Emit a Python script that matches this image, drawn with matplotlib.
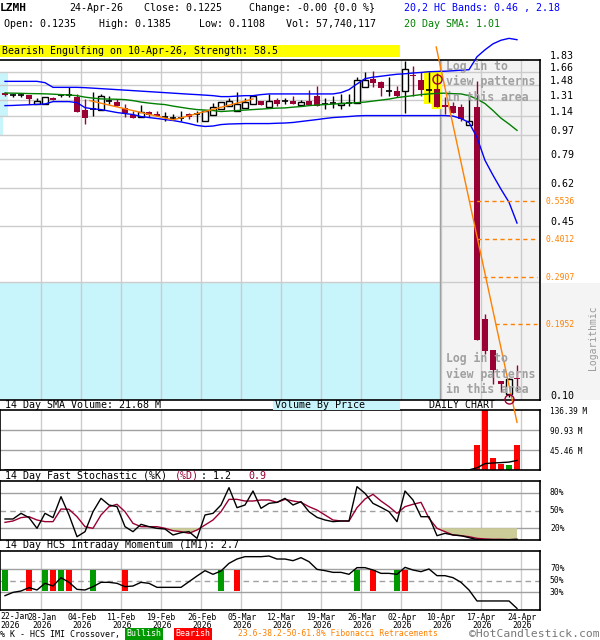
import numpy as np
import pandas as pd
import matplotlib
matplotlib.use('Agg')
import matplotlib.pyplot as plt
from matplotlib.patches import Rectangle
from matplotlib.transforms import ScaledTranslation, blended_transform_factory
from matplotlib.ticker import NullLocator

plt.rcParams['font.family'] = ['DejaVu Sans Mono', 'DejaVu Sans']

# ---------------- data ----------------
holidays = ['2026-02-16', '2026-04-03']
dates = [d for d in pd.bdate_range('2026-01-22', '2026-04-24')
         if d.strftime('%Y-%m-%d') not in holidays]

opens = [1.391, 1.368, 1.360, 1.360, 1.268, 1.265, 1.334, 1.365, 1.360, 1.345,
         1.205, 1.210, 1.200, 1.300, 1.290, 1.218, 1.152, 1.130, 1.180, 1.162,
         1.137, 1.125, 1.125, 1.165, 1.160, 1.092, 1.155, 1.212, 1.246, 1.190,
         1.222, 1.265, 1.300, 1.236, 1.311, 1.300, 1.300, 1.257, 1.292, 1.356,
         1.268, 1.268, 1.250, 1.275, 1.275, 1.463, 1.566, 1.520, 1.415, 1.410,
         1.415, 1.620, 1.549, 1.425, 1.440, 1.257, 1.246, 1.236, 1.060, 1.236,
         0.204, 0.157, 0.120, 0.108, 0.1235]
highs = [1.400, 1.380, 1.380, 1.365, 1.325, 1.345, 1.345, 1.380, 1.463, 1.380,
         1.320, 1.400, 1.370, 1.356, 1.320, 1.260, 1.190, 1.250, 1.195, 1.195,
         1.180, 1.160, 1.195, 1.175, 1.195, 1.195, 1.270, 1.280, 1.330, 1.400,
         1.330, 1.356, 1.300, 1.380, 1.330, 1.334, 1.350, 1.310, 1.427, 1.476,
         1.334, 1.356, 1.380, 1.380, 1.593, 1.655, 1.675, 1.540, 1.590, 1.476,
         1.823, 1.750, 1.655, 1.655, 1.640, 1.340, 1.280, 1.268, 1.379, 1.540,
         0.213, 0.157, 0.120, 0.1237, 0.1385]
lows = [1.350, 1.345, 1.340, 1.262, 1.262, 1.262, 1.305, 1.345, 1.345, 1.177,
        1.068, 1.145, 1.200, 1.268, 1.246, 1.135, 1.123, 1.130, 1.130, 1.140,
        1.098, 1.100, 1.098, 1.115, 1.085, 1.092, 1.155, 1.210, 1.246, 1.190,
        1.222, 1.265, 1.257, 1.236, 1.246, 1.265, 1.265, 1.257, 1.257, 1.246,
        1.215, 1.225, 1.215, 1.246, 1.270, 1.463, 1.455, 1.350, 1.356, 1.340,
        1.175, 1.356, 1.350, 1.280, 1.228, 1.160, 1.175, 1.098, 1.058, 0.171,
        0.151, 0.117, 0.1096, 0.105, 0.1108]
closes = [1.360, 1.366, 1.358, 1.318, 1.292, 1.345, 1.311, 1.363, 1.358, 1.177,
          1.122, 1.213, 1.356, 1.302, 1.246, 1.168, 1.123, 1.180, 1.152, 1.145,
          1.135, 1.123, 1.123, 1.136, 1.158, 1.195, 1.228, 1.280, 1.300, 1.264,
          1.282, 1.356, 1.257, 1.300, 1.265, 1.298, 1.265, 1.289, 1.257, 1.246,
          1.266, 1.270, 1.270, 1.273, 1.549, 1.549, 1.510, 1.450, 1.413, 1.350,
          1.700, 1.606, 1.427, 1.423, 1.228, 1.236, 1.175, 1.115, 1.092, 0.171,
          0.155, 0.132, 0.117, 0.1225, 0.1225]

hc_upper = [1.531, 1.531, 1.531, 1.531, 1.531, 1.514, 1.455, 1.455, 1.455, 1.455,
            1.451, 1.445, 1.439, 1.433, 1.427, 1.421, 1.415, 1.409, 1.403, 1.397,
            1.391, 1.385, 1.379, 1.373, 1.368, 1.362, 1.356, 1.345, 1.345, 1.351,
            1.356, 1.356, 1.368, 1.376, 1.376, 1.376, 1.376, 1.376, 1.376, 1.376,
            1.376, 1.376, 1.391, 1.427, 1.497, 1.566, 1.586, 1.599, 1.613, 1.626,
            1.633, 1.643, 1.651, 1.661, 1.665, 1.668, 1.675, 1.683, 1.690, 1.886,
            2.001, 2.105, 2.170, 2.205, 2.180]
hc_lower = [1.246, 1.248, 1.252, 1.255, 1.259, 1.264, 1.289, 1.289, 1.289, 1.278,
            1.225, 1.212, 1.205, 1.190, 1.175, 1.165, 1.155, 1.136, 1.126, 1.117,
            1.107, 1.098, 1.085, 1.070, 1.053, 1.044, 1.048, 1.061, 1.066, 1.068,
            1.070, 1.070, 1.070, 1.070, 1.073, 1.075, 1.080, 1.089, 1.098, 1.107,
            1.117, 1.126, 1.131, 1.136, 1.142, 1.145, 1.145, 1.145, 1.145, 1.145,
            1.145, 1.145, 1.145, 1.145, 1.145, 1.145, 1.140, 1.117, 1.080, 0.951,
            0.783, 0.690, 0.613, 0.549, 0.460]
sma20 = [1.387, 1.385, 1.383, 1.380, 1.379, 1.377, 1.373, 1.368, 1.364, 1.356,
         1.339, 1.328, 1.319, 1.317, 1.315, 1.311, 1.300, 1.284, 1.273, 1.264,
         1.257, 1.241, 1.228, 1.215, 1.205, 1.200, 1.195, 1.185, 1.190, 1.195,
         1.200, 1.205, 1.210, 1.215, 1.220, 1.222, 1.230, 1.236, 1.246, 1.252,
         1.257, 1.262, 1.268, 1.273, 1.278, 1.284, 1.295, 1.306, 1.317, 1.334,
         1.345, 1.356, 1.368, 1.376, 1.383, 1.385, 1.379, 1.376, 1.356, 1.317,
         1.268, 1.195, 1.120, 1.066, 1.010]

volumes = [0.22, 0.18, 0.25, 0.30, 0.21, 0.19, 0.24, 0.16, 0.28, 0.35,
           0.31, 0.22, 0.26, 0.18, 0.20, 0.27, 0.23, 0.19, 0.17, 0.21,
           0.15, 0.14, 0.18, 0.16, 0.20, 0.22, 0.25, 0.21, 0.19, 0.24,
           0.20, 0.23, 0.18, 0.17, 0.16, 0.15, 0.19, 0.14, 0.18, 0.26,
           0.17, 0.15, 0.14, 0.16, 0.32, 0.28, 0.27, 0.22, 0.19, 0.18,
           0.35, 0.24, 0.21, 0.18, 0.26, 0.20, 0.19, 0.22, 0.24, 57.0,
           136.39, 27.0, 13.0, 11.0, 57.74]
sma_volume = [0.22, 0.22, 0.22, 0.22, 0.22, 0.22, 0.22, 0.23, 0.23, 0.23,
              0.23, 0.23, 0.24, 0.24, 0.24, 0.24, 0.23, 0.23, 0.23, 0.22,
              0.22, 0.21, 0.21, 0.20, 0.20, 0.20, 0.20, 0.20, 0.20, 0.20,
              0.20, 0.20, 0.20, 0.20, 0.19, 0.19, 0.19, 0.19, 0.19, 0.19,
              0.19, 0.19, 0.18, 0.18, 0.19, 0.20, 0.20, 0.21, 0.21, 0.21,
              0.22, 0.22, 0.22, 0.22, 0.22, 0.23, 0.23, 0.23, 0.23, 5.0,
              14.5, 16.0, 16.8, 18.0, 21.68]

stoch_k = [35.6, 35.6, 45.2, 37.9, 19.8, 45.2, 37.9, 73.4, 42.4, 5.6,
           14.1, 48.0, 70.6, 59.3, 56.5, 22.6, 14.1, 26.6, 22.6, 19.8,
           18.6, 8.5, 12.4, 14.1, 2.8, 42.4, 45.2, 59.3, 88.7, 54.8,
           59.3, 83.1, 53.7, 62.1, 63.8, 70.6, 59.3, 65.0, 48.0, 38.4,
           33.9, 31.1, 32.2, 32.2, 90.4, 79.1, 62.1, 55.4, 48.0, 31.1,
           83.1, 67.8, 39.5, 39.5, 7.3, 11.3, 8.5, 7.3, 4.0, 0.6,
           0.6, 0.6, 0.6, 0.6, 1.2]
stoch_d = [29.9, 32.2, 37.9, 39.5, 33.9, 31.1, 31.1, 52.5, 52.0, 39.5,
           22.6, 19.8, 42.4, 56.5, 60.5, 48.0, 28.2, 22.6, 22.6, 22.6,
           19.8, 15.8, 14.1, 11.3, 16.9, 25.4, 33.9, 48.0, 68.9, 68.9,
           66.1, 66.1, 67.8, 67.8, 63.8, 68.9, 66.1, 63.8, 56.5, 50.8,
           42.4, 33.9, 32.2, 32.2, 54.8, 69.5, 77.4, 66.1, 56.5, 45.2,
           56.5, 60.5, 63.8, 36.7, 19.8, 14.1, 8.5, 7.3, 5.6, 2.8,
           1.7, 1.1, 1.1, 0.6, 0.9]
imi = [24.3, 29.9, 32.2, 37.9, 33.9, 45.2, 40.7, 54.8, 46.9, 35.0,
       33.9, 39.5, 46.9, 46.9, 45.2, 39.5, 40.7, 46.9, 45.2, 38.4,
       38.4, 38.4, 38.4, 48.0, 57.6, 66.7, 60.5, 66.1, 79.1, 86.4,
       90.4, 90.4, 90.4, 91.5, 86.4, 86.4, 83.6, 88.7, 81.9, 68.9,
       66.7, 63.8, 63.8, 60.5, 71.8, 71.8, 67.8, 62.1, 62.1, 60.5,
       72.3, 67.8, 65.0, 69.5, 58.2, 58.2, 54.8, 46.9, 33.9, 15.3,
       15.3, 15.3, 15.3, 15.3, 2.7]
bullish_days = ['2026-01-22', '2026-01-29', '2026-02-02', '2026-02-06', '2026-03-03',
                '2026-03-26', '2026-04-02']
bearish_days = ['2026-01-27', '2026-01-30', '2026-02-03', '2026-02-12', '2026-03-05',
                '2026-03-30', '2026-04-06']

price_ticks = [1.83, 1.66, 1.48, 1.31, 1.14, 0.97, 0.79, 0.62, 0.45, 0.28, 0.1025]
price_tick_labels = ['1.83', '1.66', '1.48', '1.31', '1.14', '0.97', '0.79', '0.62',
                     '0.45', '', '0.10']
vbp_volume = [0.0, 4.6, 4.8, 4.9, 1.6, 0.0, 0.0, 0.0, 0.0, 262.0]  # per price bucket (M)
fib_levels = [0.5536, 0.4012, 0.2907, 0.1952]
fib_labels = ['0.5536', '0.4012', '0.2907', '0.1952']
fib_start_day = [58.0, 59.0, 59.75, 61.25]
trend_days = [53.9, 64.0]
trend_prices = [2.05, 0.0848]
vline_days = [10.6, 21.0, 31.0]
vline_prices = [1.300, 1.104, 1.319]
pattern_marks_days = [54, 63]
pattern_marks_prices = [1.56, 0.103]
highlight_days = [53, 54]
vol_ticks = [45.46, 90.93, 136.39]
date_label_list = ['2026-01-22', '2026-01-28', '2026-02-04', '2026-02-11', '2026-02-19',
                   '2026-02-26', '2026-03-05', '2026-03-12', '2026-03-19', '2026-03-26',
                   '2026-04-02', '2026-04-10', '2026-04-17', '2026-04-24']

# ---------------- setup ----------------
n = len(dates)
x = np.arange(n)
day_index = {d.strftime('%Y-%m-%d'): i for i, d in enumerate(dates)}

MAROON = '#990033'
ORANGE = '#ff8000'
GRIDV = '#cccccc'
GRIDH = '#a0a0a0'
CYAN = '#c8f4fc'

W, H = 600, 640
fig = plt.figure(figsize=(6, 6.4), dpi=100)


def fx(px):
    return px / W


def fy(py):
    return 1 - py / H


def T(px, py, s, **kw):
    kw.setdefault('va', 'center')
    kw.setdefault('fontsize', 7.2)
    return fig.text(fx(px), fy(py), s, **kw)


def add_ax(top, bottom):
    return fig.add_axes([0, fy(bottom), 540 / W, (bottom - top) / H])


XL = (-0.625, 66.875)
grid_days = [day_index[d] + 0.46 for d in date_label_list[1:]]

ax = add_ax(60, 400)
axv = add_ax(410, 470)
axs = add_ax(481, 540)
axi = add_ax(551, 610)
ax.set_zorder(3)

for a in (ax, axv, axs, axi):
    a.set_xlim(XL)
    a.set_xticks([])
    a.set_yticks([])
    for sp in a.spines.values():
        sp.set_color('black')
        sp.set_linewidth(1.2)

# ---------------- main price panel ----------------
ax.set_yscale('log')
ax.set_ylim(0.1025, 1.835)
ax.yaxis.set_minor_locator(NullLocator())
ax.set_yticks([])
ax.spines['left'].set_visible(False)

split = (440 - 5) / 8.0
ax.axvspan(split, XL[1], color='#f3f3f3', zorder=0)

# volume-by-price buckets
vmax = max(vbp_volume)
for k in range(len(vbp_volume)):
    top_p, bot_p = price_ticks[k], price_ticks[k + 1]
    if vbp_volume[k] > 0:
        w = vbp_volume[k] / vmax * (split - XL[0])
        ax.barh(bot_p, w, height=top_p - bot_p, left=XL[0], align='edge',
                color=CYAN, zorder=0.2, lw=0)

for g in grid_days:
    ax.axvline(g, color=GRIDV, lw=1, zorder=0.5)
ax.axvline(split, color='#a0a0a0', lw=1, zorder=0.6)
for v in price_ticks[1:-1]:
    ax.axhline(v, color=GRIDV, lw=1, zorder=0.5)

lab_tr = blended_transform_factory(ax.transAxes, ax.transData) + \
    ScaledTranslation(10 / 100, 4 / 100, fig.dpi_scale_trans)
for v, s in zip(price_ticks, price_tick_labels):
    ax.text(1.0, v, s, transform=lab_tr, ha='left', va='center', fontsize=7.2,
            clip_on=False)

# highlight boxes for the engulfing pattern
for d in highlight_days:
    ax.add_patch(Rectangle((d - 0.62, lows[d] * 0.985), 1.24,
                           highs[d] * 1.012 - lows[d] * 0.985,
                           facecolor='#ffff00', edgecolor='none', zorder=1.5))

# candles
bw = 0.7
for i in range(n):
    o, h, l, c = opens[i], highs[i], lows[i], closes[i]
    if abs(c - o) / o < 0.004:
        ax.vlines(i, l, h, color='black', lw=1, zorder=3)
        ax.hlines((o + c) / 2, i - bw / 2, i + bw / 2, color='black', lw=1.2, zorder=3)
    elif c < o:
        ax.vlines(i, l, h, color=MAROON, lw=1, zorder=3)
        ax.bar(i, o - c, bottom=c, width=bw, color=MAROON, lw=0, zorder=3.1)
    else:
        ax.vlines(i, l, h, color='black', lw=1, zorder=3)
        ax.bar(i, c - o, bottom=o, width=bw, facecolor='white', edgecolor='black',
               lw=1, zorder=3.1)

ax.plot(x, hc_upper, color='#0000ff', lw=1, zorder=4, clip_on=False)
ax.plot(x, hc_lower, color='#0000ff', lw=1, zorder=4)
ax.plot(x, sma20, color='#008000', lw=1, zorder=4)
ax.plot(vline_days, vline_prices, color=ORANGE, lw=1, zorder=4)
ax.plot(trend_days, trend_prices, color=ORANGE, lw=1, zorder=6, clip_on=False)
ax.plot(pattern_marks_days, pattern_marks_prices, 'o', mfc='none', mec=MAROON,
        ms=6.5, mew=1, zorder=6, clip_on=False)

fib_tr = blended_transform_factory(ax.transAxes, ax.transData) + \
    ScaledTranslation(6 / 100, 0, fig.dpi_scale_trans)
for lvl, s, st in zip(fib_levels, fib_labels, fib_start_day):
    ax.plot([st, 66.5], [lvl, lvl], color=ORANGE, lw=1, ls=(0, (3, 2.5)), zorder=4)
    ax.text(1.0, lvl, s, transform=fib_tr, color=ORANGE, fontsize=5.8, va='center',
            clip_on=False)

# "log in" placeholders
T(446, 81.7, 'Log in to\nview patterns\nin this area', color='#a0a0a0',
  fontweight='bold', fontsize=8.3, linespacing=1.25, zorder=10)
T(446, 374, 'Log in to\nview patterns\nin this area', color='#a0a0a0',
  fontweight='bold', fontsize=8.3, linespacing=1.25, zorder=10)

# right-side logarithmic box
fig.patches.append(Rectangle((fx(541), fy(400)), fx(59), 117 / H, transform=fig.transFigure,
                             facecolor='#f4f4f4', edgecolor='none', zorder=0))
T(593, 338, 'Logarithmic', rotation=90, ha='center', color='#999999', fontsize=7)

# ---------------- header ----------------
T(0, 8, 'LZMH', fontweight='bold', fontsize=8)
T(69, 8, '24-Apr-26')
T(144, 8, 'Close: 0.1225')
T(249, 8, 'Change: -0.00 {0.0 %}')
T(404, 8, '20,2 HC Bands: 0.46 , 2.18', color='#0000ff')
T(4, 24, 'Open: 0.1235')
T(99, 24, 'High: 0.1385')
T(199, 24, 'Low: 0.1108')
T(286, 24, 'Vol: 57,740,117')
T(404, 24, '20 Day SMA: 1.01', color='#008000')
fig.patches.append(Rectangle((0, fy(57)), fx(400), 12 / H, transform=fig.transFigure,
                             facecolor='#ffff00', edgecolor='none', zorder=0))
T(2, 51, 'Bearish Engulfing on 10-Apr-26, Strength: 58.5')

# ---------------- volume panel ----------------
axv.set_ylim(0, 136.39)
for g in grid_days:
    axv.axvline(g, color=GRIDV, lw=1, zorder=0.5)
for v in vol_ticks[:-1]:
    axv.axhline(v, color=GRIDH, lw=1, zorder=0.5)
vcol = ['#ff0000' if closes[i] <= opens[i] else '#009900' for i in range(n)]
axv.bar(x, volumes, width=0.75, color=vcol, lw=0, zorder=2)
axv.plot(x, sma_volume, color='black', lw=1, zorder=3)
vtr = blended_transform_factory(axv.transAxes, axv.transData) + \
    ScaledTranslation(10 / 100, -1.5 / 100, fig.dpi_scale_trans)
for v in vol_ticks:
    axv.text(1.0, v, f'{v:.2f} M', transform=vtr, fontsize=5.6, va='center', clip_on=False)

fig.patches.append(Rectangle((fx(273), fy(410)), fx(127), 10 / H, transform=fig.transFigure,
                             facecolor=CYAN, edgecolor='none', zorder=0))
T(5, 405.5, '14 Day SMA Volume: 21.68 M')
T(275, 405.5, 'Volume By Price')
T(462, 405.5, 'DAILY CHART', ha='center')

# ---------------- stochastic panel ----------------
axs.set_ylim(0, 100)
for g in grid_days:
    axs.axvline(g, color=GRIDV, lw=1, zorder=0.5)
axs.axhline(80, color=GRIDH, lw=1, zorder=0.5)
axs.axhline(20, color=GRIDH, lw=1, zorder=0.5)
axs.axhline(50, color=GRIDH, lw=1, ls=(0, (4, 3)), zorder=0.5)
dd = np.array(stoch_d)
axs.fill_between(x, dd, 20, where=dd <= 20, interpolate=True, color='#cccc99', lw=0, zorder=1)
axs.plot(x, stoch_k, color='black', lw=1, zorder=3)
axs.plot(x, stoch_d, color=MAROON, lw=1, zorder=2.5)
str_ = blended_transform_factory(axs.transAxes, axs.transData) + \
    ScaledTranslation(10 / 100, 0, fig.dpi_scale_trans)
for v in (80, 50, 20):
    axs.text(1.0, v, f'{v}%', transform=str_, fontsize=5.8, va='center', clip_on=False)
T(5, 476, '14 Day Fast Stochastic (%K)')
T(175, 476, '(%D)', color=MAROON)
T(201, 476, ': 1.2')
T(248, 476, '0.9', color=MAROON)

# ---------------- IMI panel ----------------
axi.set_ylim(0, 100)
for g in grid_days:
    axi.axvline(g, color=GRIDV, lw=1, zorder=0.5)
axi.axhline(70, color=GRIDH, lw=1, zorder=0.5)
axi.axhline(30, color=GRIDH, lw=1, zorder=0.5)
axi.axhline(50, color=GRIDH, lw=1, ls=(0, (4, 3)), zorder=0.5)
bx = [day_index[d] for d in bullish_days]
rx = [day_index[d] for d in bearish_days]
axi.bar(bx, 36.5, bottom=32, width=0.8, color='#009900', lw=0, zorder=2)
axi.bar(rx, 36.5, bottom=32, width=0.8, color='#ff0000', lw=0, zorder=2)
axi.plot(x, imi, color='black', lw=1, zorder=3)
itr = blended_transform_factory(axi.transAxes, axi.transData) + \
    ScaledTranslation(10 / 100, 0, fig.dpi_scale_trans)
for v in (70, 50, 30):
    axi.text(1.0, v, f'{v}%', transform=itr, fontsize=5.8, va='center', clip_on=False)
T(5, 545.5, '14 Day HCS Intraday Momentum (IMI): 2.7')

# date labels
lab_x = [day_index[d] + 0.6 for d in date_label_list[1:]]
lab_s = [pd.Timestamp(d).strftime('%d-%b\n%Y') for d in date_label_list[1:]]
axi.set_xticks(lab_x)
axi.set_xticklabels(lab_s, fontsize=5.9, linespacing=0.95)
axi.tick_params(axis='x', length=0, pad=2)
first = pd.Timestamp(date_label_list[0]).strftime('%d-%b\n%Y')
axi.text(0, -0.04, first, transform=axi.transAxes, fontsize=5.9, linespacing=0.95,
         ha='left', va='top')

# legend row
T(0, 634, '% K - HCS IMI Crossover,', fontsize=6.0)
T(144, 634, 'Bullish', fontsize=6.0, color='white', ha='center',
  bbox=dict(boxstyle='square,pad=0.2', fc='#009900', ec='none'))
T(193, 634, 'Bearish', fontsize=6.0, color='white', ha='center',
  bbox=dict(boxstyle='square,pad=0.2', fc='#ff0000', ec='none'))
T(238, 634, '23.6-38.2-50-61.8% Fibonacci Retracements', fontsize=5.8, color=ORANGE)
T(600, 634, '\u00a9HotCandlestick.com', fontsize=8.2, color='#777777', ha='right')

fig.savefig('out.png', dpi=100)
